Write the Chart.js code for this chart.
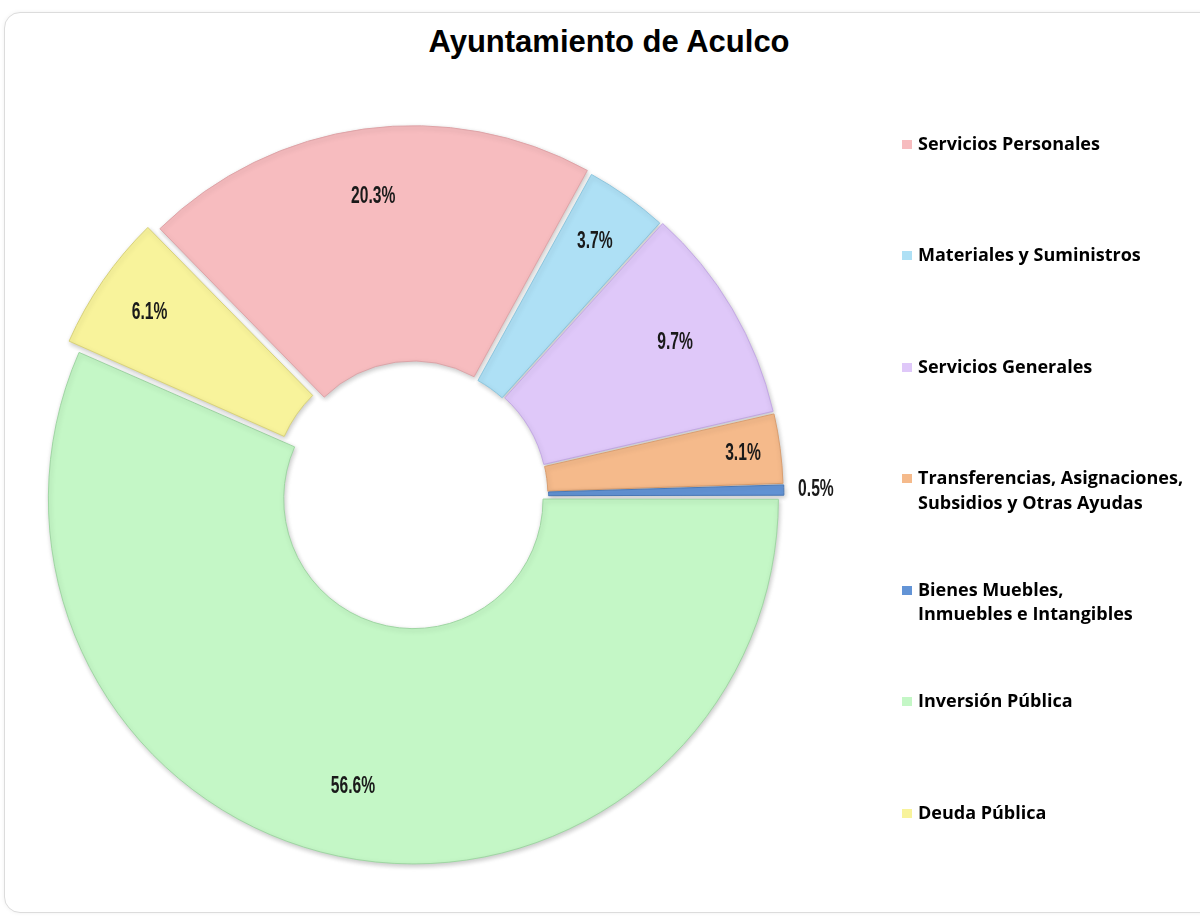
<!DOCTYPE html>
<html lang="es">
<head>
<meta charset="utf-8">
<title>Ayuntamiento de Aculco</title>
<script src="https://cdn.jsdelivr.net/npm/chart.js@4.4.1/dist/chart.umd.min.js"></script>
<style>
html,body{margin:0;padding:0;background:#fff;}
body{width:1200px;height:916px;position:relative;overflow:hidden;}
.card{position:absolute;left:4px;top:12px;width:1230px;height:899px;border:1px solid #dcdcdc;border-radius:16px;box-shadow:0 0 4px rgba(0,0,0,0.06);background:#fff;}
.title{position:absolute;left:409px;top:24px;width:400px;text-align:center;font:bold 31px/36px 'Liberation Sans',Arial,sans-serif;color:#000;white-space:nowrap;}
#chart{position:absolute;left:0;top:0;}
#legend{position:absolute;left:902px;top:0;margin:0;padding:0;list-style:none;z-index:2;}
#legend li{position:absolute;left:0;width:300px;font:700 18px/24.5px 'Open Sans',sans-serif;color:#000;white-space:pre-line;padding-left:16px;}
#legend i{position:absolute;left:0;top:9px;width:10px;height:9px;}
</style>
</head>
<body>
<div class="card"></div>
<div class="title">Ayuntamiento de Aculco</div>
<canvas id="chart" width="1200" height="916"></canvas>
<ul id="legend"></ul>
<script>
// categories (legend order = slice order, clockwise)
const categories = [
  'Servicios Personales',
  'Materiales y Suministros',
  'Servicios Generales',
  'Transferencias, Asignaciones,\nSubsidios y Otras Ayudas',
  'Bienes Muebles,\nInmuebles e Intangibles',
  'Inversión Pública',
  'Deuda Pública'
];
// percentage of the total
const values = [20.3, 3.7, 9.7, 3.1, 0.5, 56.6, 6.1];

// styling
const fills = ['#f7bcbf','#aee0f5','#dfc8f9','#f5ba8b','#6394d6','#c4f7c6','#f8f39b'];
const edges = ['#dea3a7','#8cc6de','#c3a8e4','#d99e70','#4a78b5','#9fd6a3','#d8d27a'];
const explode = [8, 3, 5, 4, 4, 3, 10];         // px each slice is pulled out
const labelNudge = [0, 15, 4, 34, 0, 0, 18];    // extra radial push of % labels

const softShadow = {
  id:'softShadow',
  beforeDatasetsDraw(chart){
    const c=chart.ctx;
    c.save();
    c.shadowColor='rgba(0,0,0,0.22)';
    c.shadowBlur=5;
    c.shadowOffsetX=1;
    c.shadowOffsetY=2;
  },
  afterDatasetsDraw(chart){ chart.ctx.restore(); }
};

const pctLabels = {
  id:'pctLabels',
  afterDraw(chart){
    const ctx=chart.ctx;
    const meta=chart.getDatasetMeta(0);
    ctx.save();
    ctx.font='bold 23px "Liberation Sans", Arial, sans-serif';
    ctx.fillStyle='#1a1a1a';
    ctx.textAlign='center';
    ctx.textBaseline='middle';
    meta.data.forEach((arc,i)=>{
      const p=arc.getProps(['x','y','startAngle','endAngle','innerRadius','outerRadius'],true);
      const mid=(p.startAngle+p.endAngle)/2;
      let r;
      if(values[i]<1) r=p.outerRadius+explode[i]+36;
      else r=p.innerRadius+0.71*(p.outerRadius-p.innerRadius)+explode[i]+labelNudge[i];
      const x=p.x+Math.cos(mid)*r, y=p.y+Math.sin(mid)*r;
      ctx.save();
      ctx.translate(x,y);
      ctx.scale(0.68,1);
      ctx.fillText(values[i].toFixed(1)+'%',0,0);
      ctx.restore();
    });
    ctx.restore();
  }
};

new Chart(document.getElementById('chart'),{
  type:'doughnut',
  data:{labels:categories,datasets:[{
    data:values,
    backgroundColor:fills,
    borderColor:edges,
    borderWidth:1,
    offset:explode.map(t=>t*4)
  }]},
  options:{
    responsive:false,animation:false,
    radius:362,cutout:'35%',rotation:-44.3,
    layout:{padding:{left:0,right:372,top:76,bottom:0}},
    plugins:{legend:{display:false},tooltip:{enabled:false}}
  },
  plugins:[softShadow,pctLabels]
});

// legend
const legend=document.getElementById('legend');
categories.forEach((name,i)=>{
  const li=document.createElement('li');
  li.style.top=(143+i*111.5-12.25)+'px';
  const sw=document.createElement('i');
  sw.style.background=fills[i];
  li.appendChild(sw);
  li.appendChild(document.createTextNode(name));
  legend.appendChild(li);
});
</script>
</body>
</html>
